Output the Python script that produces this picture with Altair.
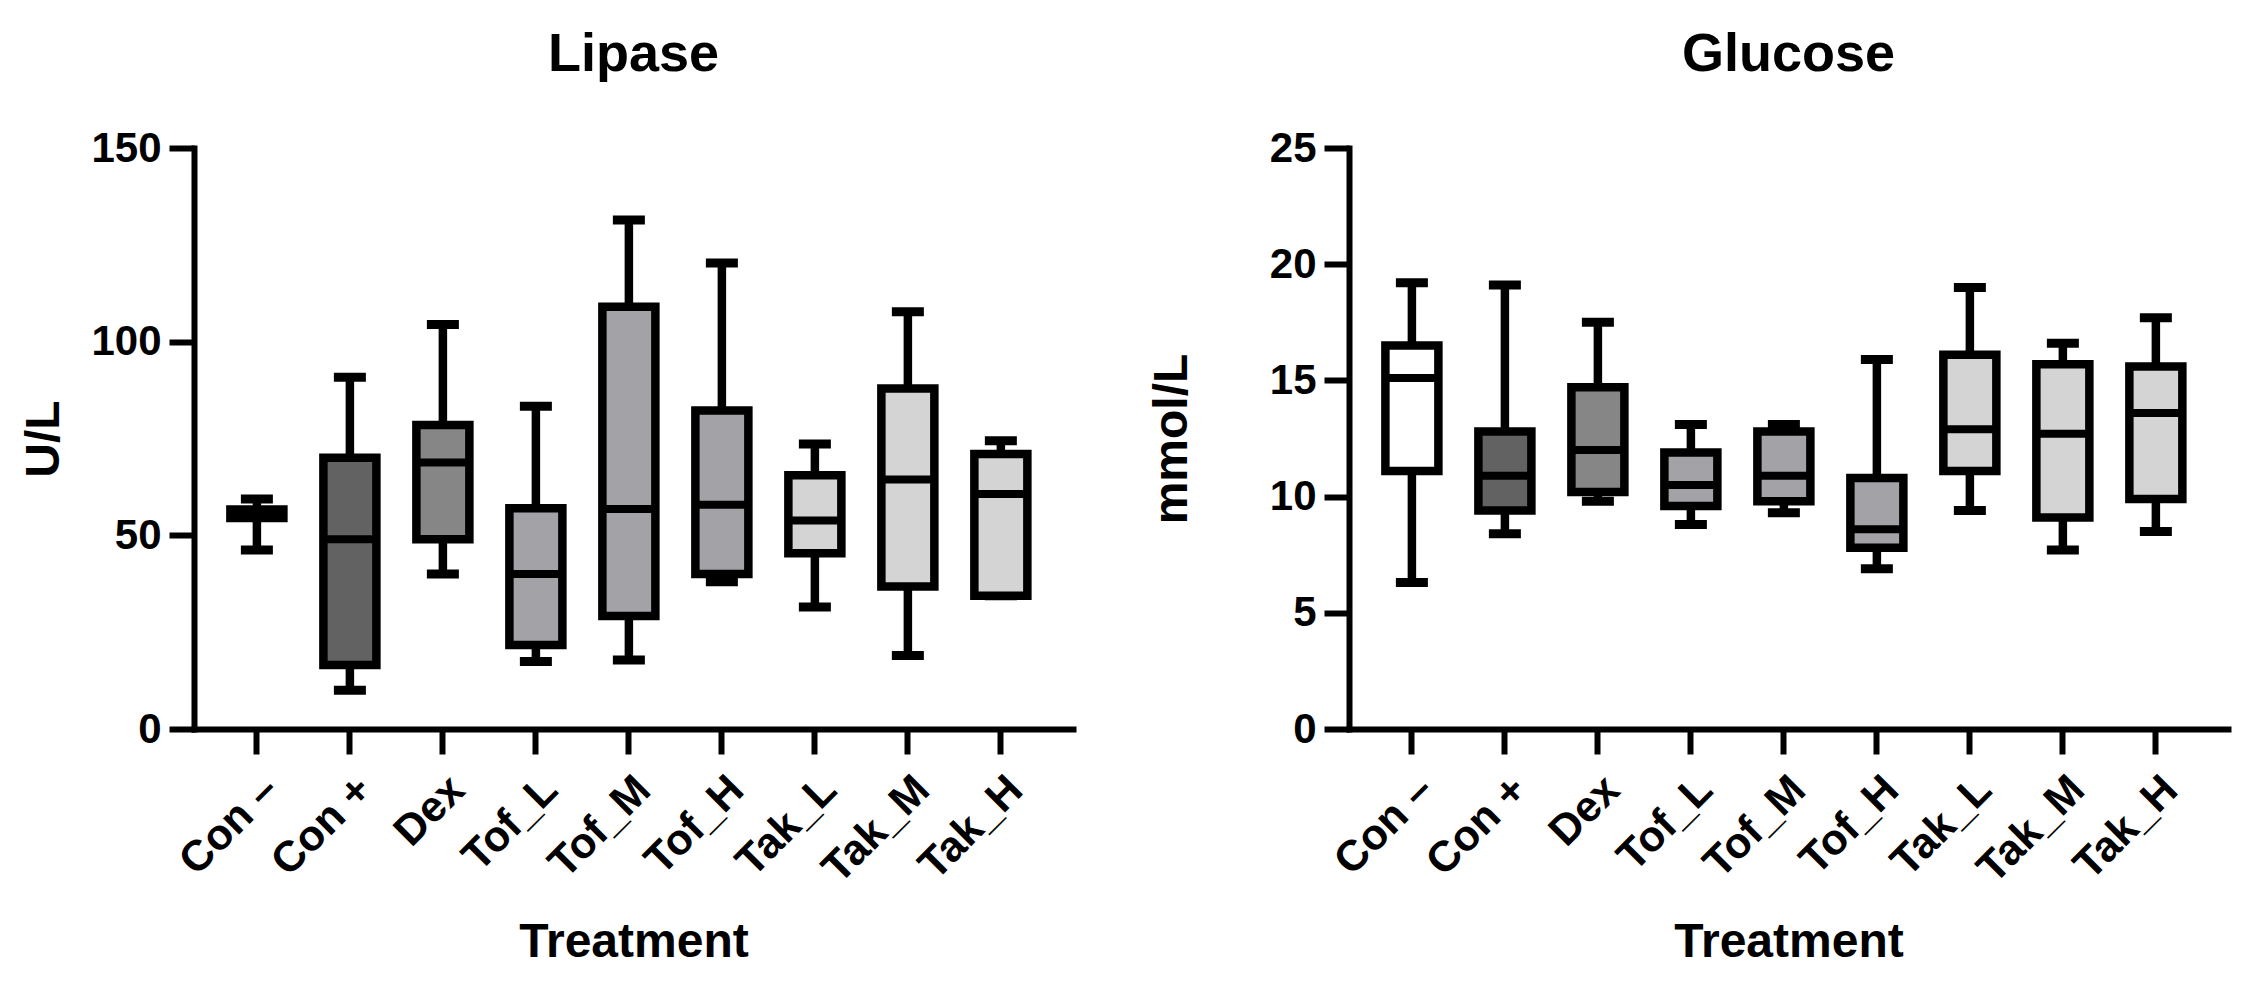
import altair as alt
import pandas as pd

categories = ["Con –", "Con +", "Dex", "Tof_L", "Tof_M", "Tof_H", "Tak_L", "Tak_M", "Tak_H"]
fills = ["#ffffff", "#626262", "#868686", "#a2a2a7", "#a2a2a7", "#a2a2a7", "#d4d4d4", "#d4d4d4", "#d4d4d4"]

# Lipase (U/L): min, q1, median, q3, max
lip_min = [46.2, 10.0, 40.0, 17.4, 17.8, 38.0, 31.5, 19.0, 34.4]
lip_q1 = [54.5, 16.5, 49.0, 21.7, 29.2, 40.0, 45.4, 36.8, 34.4]
lip_med = [55.6, 49.0, 68.8, 40.0, 56.8, 57.9, 53.8, 64.4, 60.7]
lip_q3 = [56.7, 70.0, 78.5, 57.0, 109.0, 82.2, 65.5, 87.9, 71.0]
lip_max = [59.4, 90.8, 104.4, 83.3, 131.4, 120.3, 73.6, 107.7, 74.4]

# Glucose (mmol/L): min, q1, median, q3, max
glu_min = [6.3, 8.4, 9.8, 8.8, 9.3, 6.9, 9.4, 7.7, 8.5]
glu_q1 = [11.1, 9.4, 10.2, 9.6, 9.8, 7.8, 11.1, 9.1, 9.9]
glu_med = [15.1, 10.9, 12.0, 10.5, 10.9, 8.6, 12.9, 12.7, 13.6]
glu_q3 = [16.5, 12.8, 14.7, 11.9, 12.8, 10.8, 16.1, 15.7, 15.6]
glu_max = [19.2, 19.1, 17.5, 13.1, 13.1, 15.9, 19.0, 16.6, 17.7]

FONT = "Liberation Sans"
W, H = 879, 581
LW = 8.5


def panel(title, ytitle, vmin, q1, med, q3, vmax, domain, ticks, title_pad):
    df = pd.DataFrame({"cat": categories, "min": vmin, "q1": q1, "med": med,
                       "q3": q3, "max": vmax, "fill": fills})
    x = alt.X("cat:N", sort=categories,
              scale=alt.Scale(paddingInner=0, paddingOuter=0.226, align=0.39),
              axis=alt.Axis(title="Treatment", labelAngle=-45, labelPadding=14,
                            titlePadding=28, labelFontSize=43))
    yscale = alt.Scale(domain=domain, nice=False, zero=True)
    yaxis = alt.Axis(title=ytitle, values=ticks, labelPadding=8, titlePadding=title_pad)
    base = alt.Chart(df)
    whisk_lo = base.mark_rule(color="black", strokeWidth=LW).encode(
        x=x, y=alt.Y("min:Q", scale=yscale, axis=yaxis), y2="q1:Q")
    whisk_hi = base.mark_rule(color="black", strokeWidth=LW).encode(
        x=x, y=alt.Y("q3:Q", scale=yscale), y2="max:Q")
    cap_lo = base.mark_tick(color="black", size=32, thickness=9, opacity=1).encode(
        x=x, y=alt.Y("min:Q", scale=yscale))
    cap_hi = base.mark_tick(color="black", size=32, thickness=9, opacity=1).encode(
        x=x, y=alt.Y("max:Q", scale=yscale))
    box = base.mark_bar(stroke="black", strokeWidth=LW, size=53, opacity=1).encode(
        x=x, y=alt.Y("q1:Q", scale=yscale), y2="q3:Q",
        fill=alt.Fill("fill:N", scale=None))
    median = base.mark_tick(color="black", size=53, thickness=8, opacity=1).encode(
        x=x, y=alt.Y("med:Q", scale=yscale))
    return alt.layer(whisk_lo, whisk_hi, cap_lo, cap_hi, box, median).properties(
        width=W, height=H,
        title=alt.TitleParams(title, font=FONT, fontSize=54, fontWeight="bold",
                              anchor="middle", offset=45, color="black"))


lipase = panel("Lipase", "U/L", lip_min, lip_q1, lip_med, lip_q3, lip_max,
               [0, 150], [0, 50, 100, 150], 22)
glucose = panel("Glucose", "mmol/L", glu_min, glu_q1, glu_med, glu_q3, glu_max,
                [0, 25], [0, 5, 10, 15, 20, 25], 73)

chart = alt.hconcat(lipase, glucose, spacing=75).configure_view(stroke=None).configure_axis(
    grid=False, domainColor="black", domainWidth=6, tickColor="black", tickWidth=6,
    tickSize=25, labelFont=FONT, labelFontSize=42, labelFontWeight="bold",
    labelColor="black", titleFont=FONT, titleFontSize=48, titleFontWeight="bold",
    titleColor="black", domainCap="square"
).properties(padding={"left": 12, "top": 20, "right": 5, "bottom": 5}, background="white")

chart.save("out.html", embed_options={"renderer": "svg", "actions": False})
